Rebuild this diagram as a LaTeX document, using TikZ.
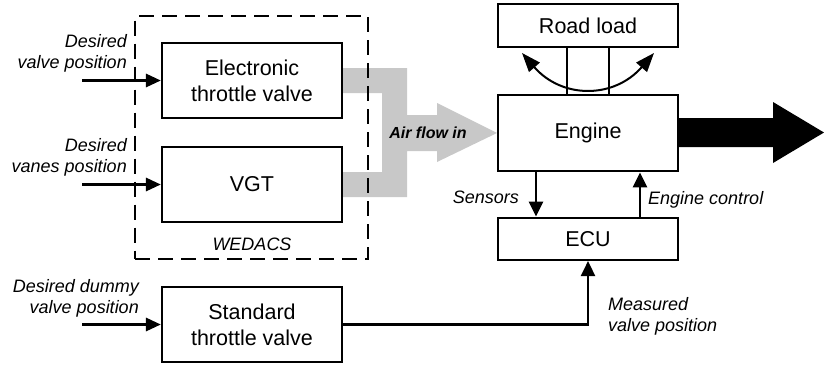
\documentclass[tikz,border=0pt]{standalone}
\usepackage{fontspec}
\setmainfont{Liberation Sans}
\usetikzlibrary{arrows.meta}
\definecolor{airgray}{RGB}{200,200,200}
\begin{document}
\begin{tikzpicture}[x=1pt,y=-1pt,
  block/.style={draw, line width=2.2pt, rectangle, inner sep=0pt, minimum width=180pt,
    font=\fontsize{21.5}{26}\selectfont, align=center},
  lbl/.style={font=\fontsize{18}{21.3}\selectfont\itshape, inner sep=0pt},
  sig/.style={line width=3pt, -{Triangle[length=15pt,width=13pt]}},
  sigb/.style={line width=2.6pt, -{Triangle[length=15pt,width=14pt]}},
  shaft/.style={line width=2.2pt},
  dashbox/.style={draw, dash pattern=on 15pt off 8pt, line width=2pt, inner sep=0pt}
]
\useasboundingbox (0,0) rectangle (824,367);

% air flow shape
\fill[airgray] (343,68) -- (407,68) -- (407,115) -- (437,115) -- (437,103) -- (497,133)
  -- (437,162) -- (437,151) -- (407,151) -- (407,197) -- (343,197) -- (343,172)
  -- (382,172) -- (382,93) -- (343,93) -- cycle;

% output power arrow
\fill[black] (677,118) -- (773,118) -- (773,102) -- (824,132.5) -- (773,163) -- (773,147) -- (677,147) -- cycle;

% blocks
\node[block, minimum height=75.6pt] (etv) at (252,80.5) {Electronic\\throttle valve};
\node[block, minimum height=75.6pt] (vgt) at (252,184.5) {VGT};
\node[block, minimum height=75.6pt] (stv) at (252,324.5) {Standard\\throttle valve};
\node[block, minimum height=42.4pt] (road) at (588,25.5) {Road load};
\node[block, minimum height=76pt, fill=white] (engine) at (588,133.3) {Engine};
\node[block, minimum height=42.3pt] (ecu) at (588,238.8) {ECU};

% WEDACS container
\node[dashbox, minimum width=232.7pt, minimum height=243pt] (wedacs) at (251.7,137.5) {};

% labels
\node[lbl, align=right, anchor=east] (l1) at (127,53) {Desired\\valve position};
\node[lbl, align=right, anchor=east] (l2) at (127,157) {Desired\\vanes position};
\node[lbl, align=right, anchor=east] (l3) at (139,298) {Desired dummy\\valve position};
\node[lbl, anchor=base east] (sens) at (519,203) {Sensors};
\node[lbl, anchor=base west] (ectl) at (648,204) {Engine control};
\node[lbl, align=left, anchor=west] (meas) at (608,316) {Measured\\valve position};
\node[lbl, anchor=base] (wlab) at (252,250) {WEDACS};
\node[font=\fontsize{16}{19}\selectfont\bfseries\itshape, anchor=base, inner sep=0pt] (air) at (428,138) {Air flow in};

% input arrows
\coordinate (i1) at (82,80.5);
\coordinate (i2) at (82,184.5);
\coordinate (i3) at (82,324.5);
\draw[sig] (i1) -- (etv);
\draw[sig] (i2) -- (vgt);
\draw[sig] (i3) -- (stv);

% engine <-> ECU
\coordinate (sx) at (536,0);
\coordinate (cx) at (640,0);
\draw[sigb] (engine.south -| sx) -- (ecu.north -| sx);
\draw[sigb] (ecu.north -| cx) -- (engine.south -| cx);
\draw[sigb] (stv.east) -| (ecu.south);

% shaft to road load
\coordinate (s1) at (567,0);
\coordinate (s2) at (609,0);
\draw[shaft] (road.south -| s1) -- (engine.north -| s1);
\draw[shaft] (road.south -| s2) -- (engine.north -| s2);

% rotation arrow
\coordinate (cl) at (522,53);
\coordinate (cr) at (654,53);
\draw[line width=2pt, {Triangle[length=19pt,width=14pt]}-{Triangle[length=19pt,width=14pt]}]
  (cl) .. controls (562,99) and (614,99) .. (cr);
\end{tikzpicture}
\end{document}
